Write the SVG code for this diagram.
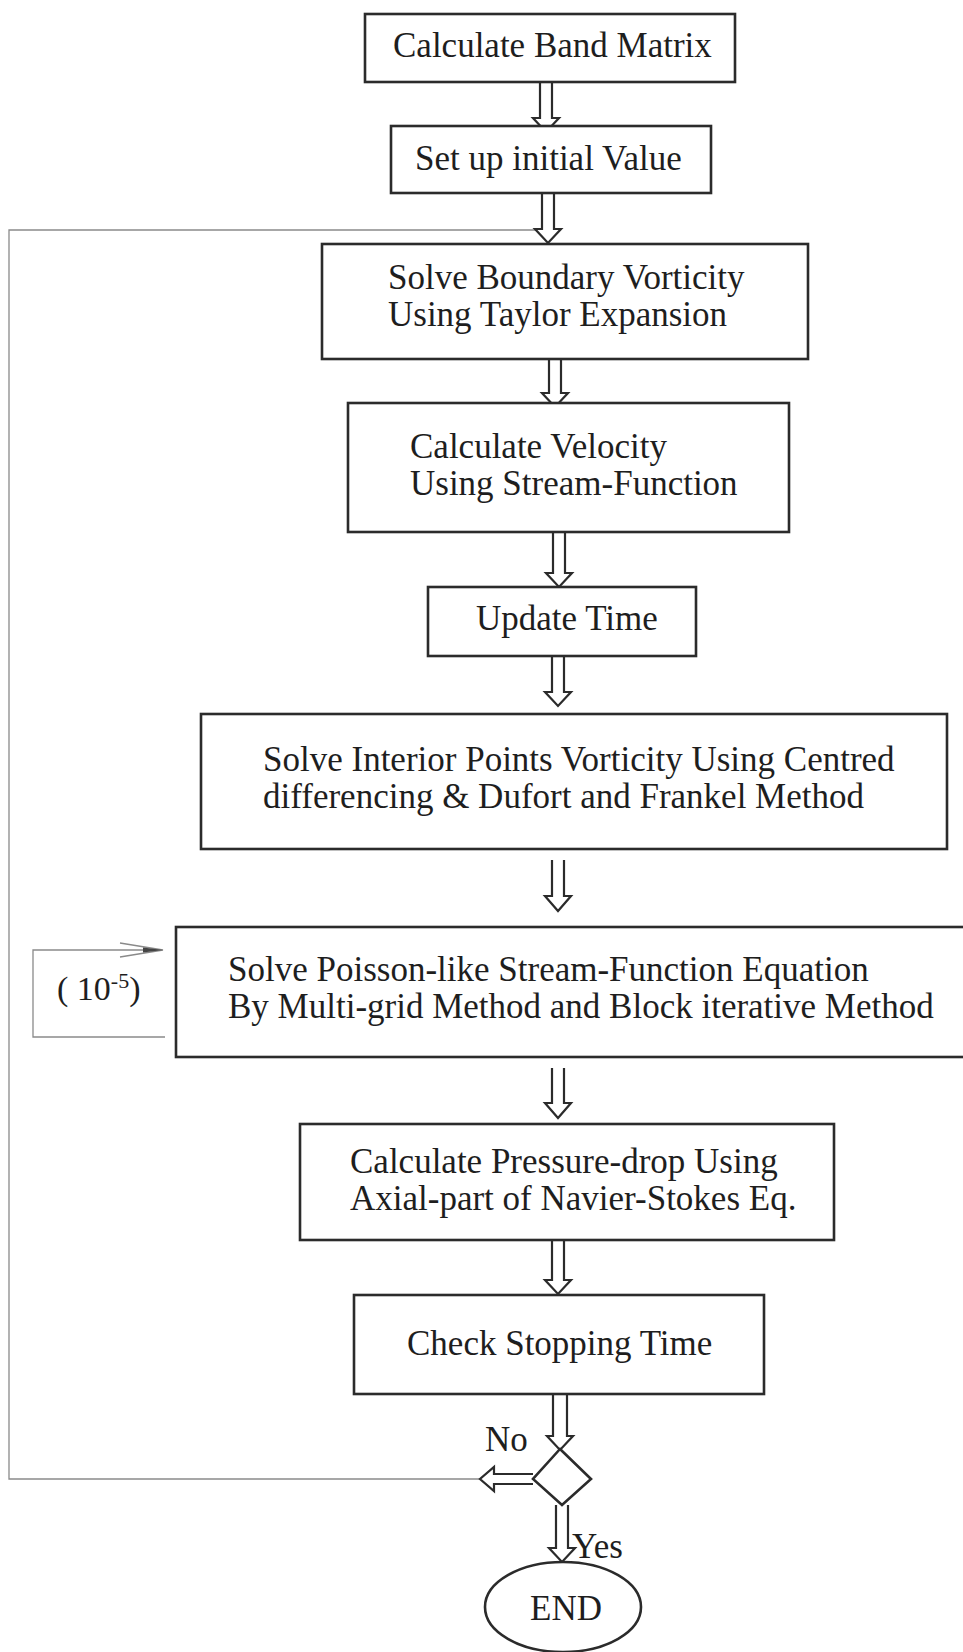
<svg xmlns="http://www.w3.org/2000/svg" width="963" height="1652" viewBox="0 0 963 1652">
  <style>
    .box { fill: #ffffff; stroke: #2b2b2b; stroke-width: 2.6; }
    .lbl { font-family: "Liberation Serif", "Times New Roman", serif; font-size: 35px; fill: #1e1e1e; }
    .arw { fill: #ffffff; stroke: #2b2b2b; stroke-width: 2.2; stroke-linejoin: miter; }
    .loop { fill: none; stroke: #8a8a8a; stroke-width: 1.3; }
  </style>
  <rect width="963" height="1652" fill="#ffffff"/>

  <!-- connectors -->
  <g id="connectors">
    <!-- outer time loop: No branch back to the boundary vorticity step -->
    <path class="loop" d="M480,1479 H9 V230 H540"/>
    <!-- inner convergence loop around the stream-function solver -->
    <path class="loop" d="M165,1037 H33 V950 H160"/>
    <path d="M120,943 L163,950 L120,957" fill="none" stroke="#8a8a8a" stroke-width="1.3"/>
    <polygon points="143,947.5 163,950 143,952.5" fill="#444"/>

    <!-- hollow block arrows between steps -->
    <path class="arw" d="M540,82 V118 H533 L546,132 L559,118 H552 V82"/>
    <path class="arw" d="M542,193 V229 H535 L548,243 L561,229 H554 V193"/>
    <path class="arw" d="M549,359 V393 H542 L555,407 L568,393 H561 V359"/>
    <path class="arw" d="M553,532 V573 H546 L559,587 L572,573 H565 V532"/>
    <path class="arw" d="M552,656 V692 H545 L558,706 L571,692 H564 V656"/>
    <path class="arw" d="M552,860 V896 H545 L558,911 L571,896 H564 V860"/>
    <path class="arw" d="M552,1068 V1103 H545 L558,1118 L571,1103 H564 V1068"/>
    <path class="arw" d="M552,1240 V1280 H545 L558,1294 L571,1280 H564 V1240"/>
    <path class="arw" d="M553,1394 V1436 H547 L560,1450 L573,1436 H567 V1394"/>
    <path class="arw" d="M556,1505 V1548 H549 L562,1562 L575,1548 H568 V1505"/>
    <path class="arw" d="M533,1474 H494 V1467 L480,1479 L494,1491 V1484 H533"/>
  </g>

  <g id="calc-band-matrix">
    <rect class="box" x="365" y="14" width="370" height="68"/>
    <text class="lbl" x="393" y="57">Calculate Band Matrix</text>
  </g>

  <g id="set-initial-value">
    <rect class="box" x="391" y="126" width="320" height="67"/>
    <text class="lbl" x="415" y="170">Set up initial Value</text>
  </g>

  <g id="boundary-vorticity">
    <rect class="box" x="322" y="244" width="486" height="115"/>
    <text class="lbl" x="388" y="289">Solve Boundary Vorticity</text>
    <text class="lbl" x="388" y="326">Using Taylor Expansion</text>
  </g>

  <g id="calc-velocity">
    <rect class="box" x="348" y="403" width="441" height="129"/>
    <text class="lbl" x="410" y="458">Calculate Velocity</text>
    <text class="lbl" x="410" y="495">Using Stream-Function</text>
  </g>

  <g id="update-time">
    <rect class="box" x="428" y="587" width="268" height="69"/>
    <text class="lbl" x="476" y="630">Update Time</text>
  </g>

  <g id="interior-vorticity">
    <rect class="box" x="201" y="714" width="746" height="135"/>
    <text class="lbl" x="263" y="771">Solve Interior Points Vorticity Using Centred</text>
    <text class="lbl" x="263" y="808">differencing &amp; Dufort and Frankel Method</text>
  </g>

  <g id="stream-function-solver">
    <rect class="box" x="176" y="927" width="800" height="130"/>
    <text class="lbl" x="228" y="981">Solve Poisson-like Stream-Function Equation</text>
    <text class="lbl" x="228" y="1018">By Multi-grid Method and Block iterative Method</text>
  </g>

  <g id="tolerance-label">
    <text class="lbl" x="57" y="1000" style="font-size:34px">( 10<tspan dy="-12" style="font-size:22px">-5</tspan><tspan dy="12">)</tspan></text>
  </g>

  <g id="pressure-drop">
    <rect class="box" x="300" y="1124" width="534" height="116"/>
    <text class="lbl" x="350" y="1173">Calculate Pressure-drop Using</text>
    <text class="lbl" x="350" y="1210">Axial-part of Navier-Stokes Eq.</text>
  </g>

  <g id="check-stopping-time">
    <rect class="box" x="354" y="1295" width="410" height="99"/>
    <text class="lbl" x="407" y="1355">Check Stopping Time</text>
  </g>

  <g id="decision">
    <polygon class="box" points="560,1449 591,1479 562,1505 533,1479"/>
    <text class="lbl" x="485" y="1451">No</text>
    <text class="lbl" x="572" y="1558">Yes</text>
  </g>

  <g id="end">
    <ellipse class="box" cx="563" cy="1607" rx="78" ry="45"/>
    <text class="lbl" x="530" y="1620">END</text>
  </g>
</svg>
